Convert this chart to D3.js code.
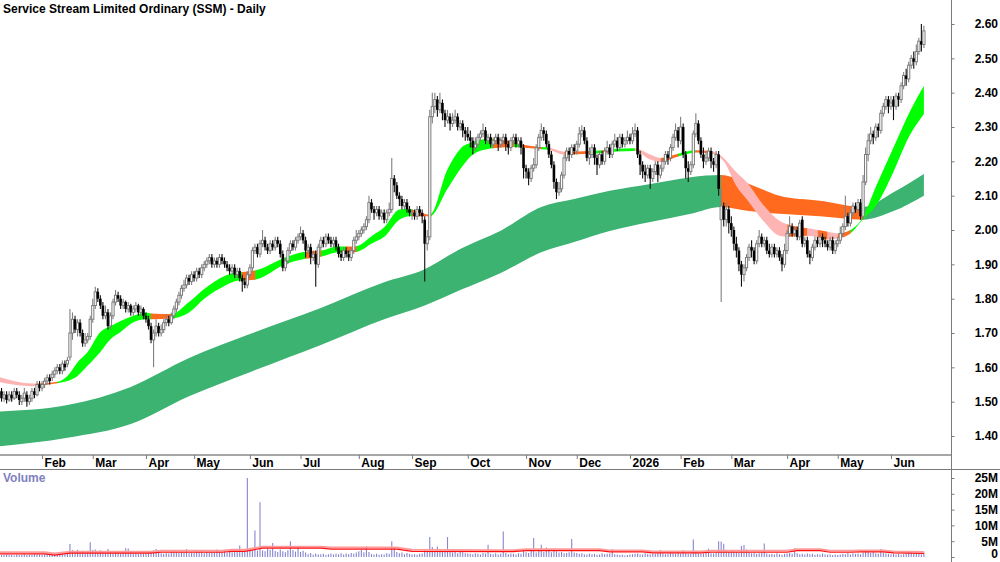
<!DOCTYPE html>
<html>
<head>
<meta charset="utf-8">
<script src="https://cdn.jsdelivr.net/npm/d3@7"></script>
<style>
  html, body { margin: 0; padding: 0; background: #fff; }
  svg { display: block; }
  text { font-family: 'Liberation Sans Narrow', 'Arial Narrow', 'Liberation Sans', Arial, sans-serif; font-weight: bold; }
</style>
</head>
<body>
<svg id="chart" width="1000" height="562"></svg>
<script>
'use strict';

// ============================================================
//  SSM daily candles + short/long MA ribbons + volume panel
//  Prices kept in cents, volume in millions.
// ============================================================

// ── Data: one row per month (first day = 8 Jan 2025) ───────
const opens = [
  152,153,151,152,150.5,152,151,153,152,150,151,152,150,151,153,152,155,
  154,155,156,157,157,158,159,160,159,161,161,163,170,174,171,173,170,167,168,169,
  174,178,182,180,178,175,176,172,175,179,181,180,178,179,177,178,176,177,178,176,177,
  175,174,172,168,170,172,170,171,173,174,173,175,177,179,181,183,184,186,185,
  187,186,188,187,189,190,191,192,190,191,190,192,191,190,189,188,189,187,188,186,185,184,
  187,189,194,195,193,196,197,195,194,196,195,197,196,193,189,191,194,196,195,197,
  198,199,197,194,195,192,193,190,195,197,196,198,197,196,197,195,193,192,194,193,192,194,197,
  198,199,200,201,203,208,206,205,206,204,205,203,205,206,215,213,210,209,207,208,206,
  205,205,204,206,205,203,196,198,233,236,238,235,237,234,232,233,231,232,233,230,231,229,
  228,227,226,224,225,227,228,229,226,227,225,226,227,225,226,227,225,224,226,227,225,226,224,
  218,217,215,218,219,224,227,229,228,225,222,219,214,211,212,216,221,223,222,224,
  223,225,228,229,226,221,222,224,221,219,222,220,223,224,222,225,226,224,227,225,226,
  227,226,228,229,222,219,217,216,218,215,217,219,216,218,220,222,221,224,227,229,
  226,230,222,218,217,219,228,231,226,222,220,221,223,220,219,222,203,207,203,206,
  202,200,196,194,190,187,189,192,195,194,191,196,198,196,197,194,193,195,193,194,192,190,
  194,199,201,199,200,198,203,196,197,193,192,195,197,196,198,197,196,195,197,194,
  196,197,199,201,204,202,205,207,206,208,204,214,222,226,228,227,230,229,234,236,238,
  236,238,236,239,238,242,245,244,248,250,249,252,255,254
];

const highs = [
  154,154,153,153,153,153,154,154,153,152,154,153,152,154,154,156,156,
  156,157,158,158,159,160,161,161,162,162,163,177,176,175,174,174,171,170,170,175,
  180,183.5,183,181,179,178,177,176,180,182.5,182,181,180,179.5,179,178.5,178,179,178.5,178,177.5,
  176,175,173,171,174,173,172.5,174,175.5,175,176,178,180,182,184,185.5,187,187,188,
  188,189,189,190,191,192,193,193,192,192,193,193,192,191,190,190,190,189,189,187,186,188,
  190,195,196,196,197,200,198,196,197,197,198,198,197,194,192,195,197,197,198,199,
  201,200,198,196,196,194,194,196,198,198,199,199,198,198,198,196,194,195,195,194,195,198,200,
  200,201,202,204,210,209,207,207,207,206,206,206,208,221,216,214,211,210,209,209,207,
  206,206,207,207,206,204,200,235,240,240,239,240,238,235,235,234,234,235,234,232,232,230,
  230,229,227,227,228,229,231,230,228,228,227,228,228,227,228,228,226,227,228,228,227,227,225,
  219,218,219,221,225,228,231,230,229,226,223,220,215,214,217,222,224,224,225,225,
  226,230,230.5,230,227,224,225,225,222,223,223,224,226,225,226,228,227,228,228,227,229,
  228,230,231,230,223,220,219,219,219,218,220,220,219,221,223,223,225,228,231,230,
  233,231,223,220,220,229,234,232,227,224,223,224,224,221,223,223,212,208,208,207,
  204,201,198,195,191,190,193,196,197,195,197,200,199,198,198,196,196,196,195,195,193,196,
  200,204,202,201,201,203,204,198,198,194,196,198,198,199,199,198,197,198,198,197,
  198,201,202,210,205,206,208,208,209,209,216,224,228,230,229,231,231,235,237,239,239,
  239,239,240,240,243,246,247,249,251,252,254,256,260,259.5
];

const lows = [
  151,150,150,149.5,150,150,150.5,151,149,149,150,148.5,149,150,151,151.5,153,
  153,154,155,155,156,157,158,158,158,159,160,162,168,170,169,169,166,166,167,168,
  173,177,179,177,174,174,171,171,174,178,179,177,177,176,176,175,175,176,175,175,174,
  173,171,167,160,169,169,169,170,172,172,172.5,174,176,178,180,182,183,184,184,
  185,185,186,186,188,189,190,189,189,189,189,190,189,188,187,187,186,186,185,182,183,183,
  186,188,193,192,192,195,194,193,193,194,194,195,192,188,188,190,193,194,194,196,
  197,196,192,193,190,191,183.5,189,194,195,195,196,195,195,194,192,191,191,192,191,191,193,196,
  197,198,199,200,202,205,203,204,203,203,202,202,204,205,211,209,207,206,206,205,204,
  203,203,203,204,202,185,194,197,231,234,233,234,232,230,231,229,230,231,229,229,227,226,
  226,224,222,223,224,226,227,225,225,224,224,225,223,224,225,223,222,223,225,224,224,222,215,
  215,213,214,217,218,223,226,226,224,221,218,212,209,210,211,215,220,220,221,222,
  222,224,227,225,220,219,221,219,216,218,219,219,222,221,221,224,223,223,224,224,225,
  225,225,227,221,216,215,214,215,212,214,216,214,215,217,219,219,220,223,226,224,
  225,221,215,214,216,218,227,225,221,218,219,220,218,217,218,210,179,201,201,199,
  198,194,192,188,183.5,185,188,191,192,190,190,195,195,195,193,192,192,192,192,191,188,189,
  193,198,198,198,197,197,195,195,192,190,191,194,195,195,195,195,194,194,193,193,
  195,196,198,200,201,201,204,205,205,203,203,213,220,225,225,226,227,228,233,235,234,
  235,232,235,236,237,241,242,243,247,247,248,251,252,253
];

const closes = [
  153,151,152,150.5,152,151,153,152,150.5,151,152.5,150,151,153,152,155,154,
  155,156,157,156,158,159,160,159,161,160,162,170,174,171,173,170,167,168,169,174,
  178,182,180,178,175,176,172,175,179,181,180,178,179,177,178,176,177,178,176,177,175,
  174,172,168,170,172,170,171,173,174,173,175,177,179,181,183,184,186,185,187,
  186,188,187,189,190,191,192,190,191,190,192,191,190,189,188,189,187,188,186,185,184,187,
  189,194,195,193,196,197,195,194,196,195,197,196,193,189,191,194,196,195,197,198,
  199,197,194,195,192,193,190,195,197,196,198,197,196,197,195,193,192,194,193,192,194,197,198,
  199,200,201,203,208,206,205,206,204,205,203,205,206,215,213,210,209,207,208,206,205,
  205,204,206,205,204,196,198,233,236,238,235,237,234,232,233,231,232,233,230,231,229,228,
  227,226,224,225,227,228,229,226,227,225,226,227,225,226,227,225,224,226,227,225,226,224,218,
  217,215,218,219,224,227,229,228,225,222,219,214,211,212,216,221,223,222,224,223,
  225,228,229,226,221,222,224,221,219,222,220,223,224,222,225,226,224,227,225,226,227,
  226,228,229,222,219,217,216,218,215,217,219,216,218,220,222,221,224,227,229,226,
  230,222,218,217,219,228,231,226,222,220,221,223,220,219,222,212,207,203,206,202,
  200,196,194,190,187,189,192,195,194,191,196,198,196,197,194,193,195,193,194,192,190,194,
  199,201,199,200,198,202,196,197,193,192,195,197,196,198,197,196,195,197,194,196,
  197,199,201,204,202,205,207,206,208,204,214,222,226,228,227,230,229,234,236,238,236,
  237,236,239,238,242,245,244,248,250,249,252,255,254,258
];

const volumes = [
  0.8,0.6,0.7,0.9,0.6,0.7,0.5,0.8,0.6,0.7,0.9,0.6,0.8,0.7,1.0,0.9,0.8,
  0.7,0.9,1.1,0.8,0.9,1.0,1.3,0.8,1.0,0.9,1.2,4.1,2.2,1.8,2.3,1.5,2.0,1.4,1.6,4.7,
  2.2,2.4,1.8,2.1,1.5,1.3,2.5,1.6,1.2,1.8,1.4,1.1,1.5,2.8,2.7,1.6,1.2,1.4,1.0,1.3,1.1,
  1.2,1.6,1.9,2.1,2.5,1.4,1.2,1.0,1.3,1.1,1.7,2.2,1.5,1.3,1.6,1.4,2.5,1.2,1.4,
  1.3,1.8,1.5,1.9,1.2,1.6,1.4,1.7,1.5,2.4,1.8,1.6,1.9,1.4,1.7,1.5,2.0,1.6,3.6,1.8,1.7,25.0,
  2.2,1.9,8.4,2.0,17.3,2.1,1.8,2.6,2.3,4.4,1.9,1.6,2.4,1.8,1.5,2.1,5.0,2.2,1.7,3.2,
  1.6,2.0,1.4,0.9,1.3,0.7,1.1,0.8,0.9,1.0,0.6,0.9,1.1,0.8,1.0,0.9,1.2,0.8,1.1,0.9,1.3,1.0,1.4,
  1.8,2.3,1.5,3.4,1.6,0.9,0.8,1.0,0.7,0.9,0.8,1.2,1.0,5.0,3.0,1.6,1.2,1.4,0.9,1.3,1.0,
  0.8,0.9,0.7,1.0,1.1,2.4,1.8,6.3,3.2,1.9,3.3,2.2,1.8,2.0,6.3,2.1,1.4,1.6,1.2,2.3,1.5,1.2,
  1.1,1.0,0.9,1.2,1.0,0.8,1.3,1.1,3.9,1.0,0.9,1.2,0.8,1.0,8.1,1.3,0.9,1.1,1.0,0.8,1.2,1.0,2.0,
  1.5,1.3,1.9,6.0,1.4,2.5,3.9,1.7,3.0,2.0,1.5,2.6,1.8,1.4,1.6,1.2,1.3,1.5,5.7,1.4,
  1.3,1.0,1.2,0.9,0.8,1.1,0.9,1.0,0.7,0.8,1.2,0.9,1.0,1.1,2.5,0.9,0.8,0.6,0.7,0.5,0.6,
  0.8,0.9,1.0,1.1,0.9,0.8,1.2,1.0,0.9,1.1,1.0,1.2,2.2,1.1,0.9,1.0,1.3,1.2,1.0,1.4,
  1.1,2.2,1.2,1.0,1.1,5.5,1.6,1.2,1.0,1.1,1.3,2.6,1.2,1.1,1.4,5.0,4.9,4.2,2.0,1.6,
  1.8,2.2,1.6,1.4,3.5,3.8,2.4,1.5,1.2,1.3,1.0,1.2,1.4,4.3,1.1,0.9,1.0,0.8,1.2,0.9,0.7,1.0,
  1.1,1.3,1.0,2.8,1.2,0.9,1.0,0.8,1.1,0.9,1.0,0.7,0.9,0.8,1.1,0.8,0.7,0.9,0.6,0.8,
  0.7,0.8,1.0,0.9,1.3,0.8,1.2,1.0,1.1,0.9,1.4,2.2,1.8,1.3,1.6,1.2,1.0,2.5,1.4,1.1,1.0,
  0.9,1.1,0.8,1.0,0.7,0.9,1.2,1.8,1.5,1.0,1.7,1.3,0.9,1.5
];

// Volume average line (bar index → millions)
const volAvgIdx = [0,18,22,28,60,64,88,92,97,100,104,127,131,157,163,198,203,208,212,237,241,254,258,277,281,311,315,324,328,336,340,349,353,365];
const volAvgVal = [1.0,1.0,0.6,1.2,1.2,1.5,1.5,1.8,1.8,2.2,2.8,2.8,2.5,2.5,1.8,1.7,1.7,2.0,2.0,2.0,1.6,1.6,1.3,1.3,1.5,1.5,2.0,2.0,1.5,1.5,1.6,1.6,1.3,1.1];

// Short-term ribbon (bar index, edges in cents, state G/O/P)
const shortIdx   = [0,13,15,23,27,31,35,40,44,48,53,58,60,68,75,81,89,94,96,101,113,120,121,127,134,137,141,147,152,158,162,163,170,177,182,187,193,195,203,206,214,217,223,233,238,242,251,257,261,268,275,281,286,291,295,302,308,311,319,323,327,331,336,341,346,353,359,365];
const shortUpper = [157.2,155.3,155.3,155.8,157.5,161.5,164.5,170.3,172.0,173.5,175.0,176.0,175.7,175.5,179.0,182.8,186.6,187.7,187.8,188.2,192.0,193.6,193.7,194.0,195.3,195.2,195.3,198.2,200.8,206.0,206.2,206.0,204.5,217.7,223.6,225.6,226.5,226.5,225.8,225.0,224.2,224.0,222.8,223.0,223.2,223.6,223.8,222.0,221.0,222.2,223.2,223.0,221.0,216.8,214.0,207.0,202.7,201.7,200.5,200.0,199.5,199.0,200.0,203.8,212.5,224.0,233.8,242.0];
const shortLower = [155.7,154.5,154.6,155.4,156.0,157.5,160.5,164.5,168.2,170.3,173.1,174.0,174.0,174.2,176.0,180.0,183.7,185.2,185.3,185.5,190.0,191.5,191.6,192.2,193.5,193.4,193.6,196.0,198.0,203.0,204.0,204.0,204.0,212.0,217.7,222.0,223.6,223.8,224.2,224.0,223.5,223.3,222.0,222.2,222.4,222.8,223.0,220.5,219.8,221.4,222.6,222.2,220.0,212.8,209.0,202.3,198.3,198.0,198.3,197.8,197.2,197.5,199.0,203.2,207.0,217.0,227.0,233.8];
const shortState = ['P','P','O','G','G','G','G','G','G','G','G','G','O','G','G','G','G','G','O','G','G','G','O','G','G','O','G','G','G','G','G','O','G','G','G','G','G','O','G','O','G','P','O','G','O','G','P','P','O','G','O','P','P','P','P','P','P','O','P','O','P','O','G','G','G','G','G','G'];

// Long-term ribbon
const longIdx   = [0,27,52,75,99,127,152,168,182,198,214,227,241,257,273,285,296,308,324,341,353,365];
const longUpper = [147.1,149.0,154.3,162.7,169.7,177.3,184.8,188.6,194.5,199.8,206.7,209.0,211.4,213.4,215.4,216.0,213.4,210.0,208.5,206.7,211.0,216.3];
const longLower = [137.0,139.5,143.5,151.6,158.6,166.5,174.0,178.0,182.5,187.5,193.5,196.5,199.7,202.3,204.7,206.7,205.5,204.7,204.0,203.0,205.5,210.0];
const longState = ['G','G','G','G','G','G','G','G','G','G','G','G','G','G','G','O','O','O','O','G','G','G'];

// Axis labels / ticks
const monthLabels  = ['Feb','Mar','Apr','May','Jun','Jul','Aug','Sep','Oct','Nov','Dec','2026','Feb','Mar','Apr','May','Jun'];
const priceTicks   = [1.40,1.50,1.60,1.70,1.80,1.90,2.00,2.10,2.20,2.30,2.40,2.50,2.60];
const volumeTicks  = [0,5,10,15,20,25];
const asxHolidays  = ['2025-01-27','2025-04-18','2025-04-21','2025-04-25','2025-06-09','2025-12-25','2025-12-26',
                      '2026-01-01','2026-01-26','2026-04-03','2026-04-06','2026-06-08'];

const SHORT_COLOURS = { G: '#00ff00', O: '#ff6a1f', P: '#ffb4b4' };
const LONG_COLOURS  = { G: '#3cb371', O: '#ff6a1f' };

// ── Layout ───────────────────────────────────────────────────
const W = 1000, H = 562;
const AXIS_X = 951;
const PRICE_BOTTOM = 455;
const n = closes.length;

// ── Trading days ─────────────────────────────────────────────
const fmtKey = d3.timeFormat('%Y-%m-%d');
const dates = [];
for (let d = new Date(2025, 0, 8); dates.length < n; d.setDate(d.getDate() + 1)) {
    const wd = d.getDay();
    if (wd !== 0 && wd !== 6 && !asxHolidays.includes(fmtKey(d))) dates.push(new Date(d));
}
const monthStarts = d3.range(1, n).filter(i => dates[i].getMonth() !== dates[i - 1].getMonth());

// ── Scales ───────────────────────────────────────────────────
const x  = d3.scaleLinear().domain([0, 365]).range([-1.0, 923.9]);
const y  = d3.scaleLinear().domain([1.40, 2.60]).range([436, 24]);
const yV = d3.scaleLinear().domain([0, 25]).range([557, 478]);

const svg  = d3.select('#chart');
const defs = svg.append('defs');

defs.append('clipPath').attr('id', 'price-clip')
    .append('rect').attr('x', 0).attr('y', 0).attr('width', AXIS_X).attr('height', PRICE_BOTTOM - 1);

const gPrice = svg.append('g').attr('clip-path', 'url(#price-clip)');

// ── Ribbons ──────────────────────────────────────────────────
function drawRibbon(g, idx, upper, lower, state, colours, id) {
    const pts = idx.map((d, k) => ({ i: d, a: upper[k] / 100, b: lower[k] / 100, s: state[k] }));
    const area = d3.area()
        .x(d => x(d.i))
        .y0(d => y(d.b))
        .y1(d => y(d.a))
        .curve(d3.curveMonotoneX);

    // runs of equal state: [start, next sample]
    const runs = [];
    for (let k = 0; k < pts.length - 1; k++) {
        const last = runs[runs.length - 1];
        if (last && last.s === pts[k].s) last.end = pts[k + 1].i;
        else runs.push({ s: pts[k].s, start: pts[k].i, end: pts[k + 1].i });
    }

    Object.keys(colours).forEach(s => {
        const rs = runs.filter(r => r.s === s);
        if (!rs.length) return;
        const cid = `${id}-${s}`;
        const cp = defs.append('clipPath').attr('id', cid);
        rs.forEach(r => cp.append('rect')
            .attr('x', x(r.start) - 0.3)
            .attr('width', x(r.end) - x(r.start) + 0.6)
            .attr('y', 0).attr('height', H));
        g.append('path')
            .attr('d', area(pts))
            .attr('fill', colours[s])
            .attr('clip-path', `url(#${cid})`);
    });
}

drawRibbon(gPrice, longIdx, longUpper, longLower, longState, LONG_COLOURS, 'long');
drawRibbon(gPrice, shortIdx, shortUpper, shortLower, shortState, SHORT_COLOURS, 'short');

// ── Candles ──────────────────────────────────────────────────
const isUp = i => closes[i] >= opens[i];

const candles = gPrice.selectAll('g.candle')
    .data(d3.range(n))
    .join('g')
    .attr('class', 'candle');

candles.append('line')
    .attr('x1', i => x(i)).attr('x2', i => x(i))
    .attr('y1', i => y(highs[i] / 100))
    .attr('y2', i => y(lows[i] / 100))
    .attr('stroke', i => isUp(i) ? '#808080' : '#101010')
    .attr('stroke-width', 1.1);

candles.append('rect')
    .attr('x', i => x(i) - (isUp(i) ? 1.1 : 1.3))
    .attr('width', i => isUp(i) ? 2.2 : 2.6)
    .attr('y', i => y(Math.max(opens[i], closes[i]) / 100))
    .attr('height', i => Math.max(1.2, Math.abs(y(opens[i] / 100) - y(closes[i] / 100))))
    .attr('fill', i => isUp(i) ? '#ffffff' : '#000000')
    .attr('stroke', i => isUp(i) ? '#7c7c7c' : 'none')
    .attr('stroke-width', 1);

// ── Volume ───────────────────────────────────────────────────
svg.append('g')
    .selectAll('line')
    .data(volumes)
    .join('line')
    .attr('x1', (v, i) => x(i)).attr('x2', (v, i) => x(i))
    .attr('y1', yV(0))
    .attr('y2', v => yV(v))
    .attr('stroke', '#8686d0')
    .attr('stroke-width', 1.1);

const volLine = d3.line()
    .x((d, k) => x(volAvgIdx[k]))
    .y(d => yV(d));

svg.append('path')
    .attr('d', volLine(volAvgVal))
    .attr('transform', 'translate(0,-1.5)')
    .attr('fill', 'none')
    .attr('stroke', '#ff9a9a')
    .attr('stroke-width', 2);

svg.append('path')
    .attr('d', volLine(volAvgVal))
    .attr('fill', 'none')
    .attr('stroke', '#ff1010')
    .attr('stroke-width', 1.2);

svg.append('text')
    .attr('x', 3).attr('y', 482)
    .attr('font-size', 12)
    .attr('fill', '#8080c0')
    .text('Volume');

// ── Frame lines ──────────────────────────────────────────────
svg.append('line')
    .attr('x1', 0).attr('x2', AXIS_X).attr('y1', PRICE_BOTTOM).attr('y2', PRICE_BOTTOM)
    .attr('stroke', '#a6a6a6').attr('stroke-width', 2);
svg.append('line')
    .attr('x1', 0).attr('x2', W).attr('y1', 469.5).attr('y2', 469.5)
    .attr('stroke', '#7a7a7a').attr('stroke-width', 1);
svg.append('line')
    .attr('x1', AXIS_X + 0.5).attr('x2', AXIS_X + 0.5).attr('y1', 0).attr('y2', H)
    .attr('stroke', '#7a7a7a').attr('stroke-width', 1);

// ── X axis (months) ──────────────────────────────────────────
const xAxis = d3.axisBottom(x)
    .tickValues(monthStarts)
    .tickSize(4)
    .tickFormat((d, k) => monthLabels[k] || '');

const gx = svg.append('g')
    .attr('transform', `translate(0,${PRICE_BOTTOM})`)
    .call(xAxis);
gx.select('.domain').remove();
gx.selectAll('.tick line').attr('stroke', '#7a7a7a');
gx.selectAll('.tick text')
    .attr('x', 2).attr('y', 11.5).attr('dy', null)
    .attr('text-anchor', 'start')
    .attr('font-size', 12)
    .attr('font-family', null)
    .attr('fill', '#000');

// ── Price axis ───────────────────────────────────────────────
const gy = svg.append('g')
    .attr('transform', `translate(${AXIS_X + 0.5},0)`)
    .call(d3.axisRight(y).tickValues(priceTicks).tickSize(3).tickFormat(d3.format('.2f')));
gy.select('.domain').remove();
gy.selectAll('.tick line').attr('stroke', '#7a7a7a');
gy.selectAll('.tick text')
    .attr('x', 46.5).attr('text-anchor', 'end')
    .attr('font-size', 12).attr('font-family', null).attr('fill', '#000');

// ── Volume axis ──────────────────────────────────────────────
const gv = svg.append('g')
    .attr('transform', `translate(${AXIS_X + 0.5},0)`)
    .call(d3.axisRight(yV).tickValues(volumeTicks).tickSize(3).tickFormat(v => v ? `${v}M` : '0'));
gv.select('.domain').remove();
gv.selectAll('.tick line').attr('stroke', '#7a7a7a');
gv.selectAll('.tick text')
    .attr('x', 46.5).attr('text-anchor', 'end')
    .attr('dy', v => v ? '0.32em' : '0.05em')
    .attr('font-size', 12).attr('font-family', null).attr('fill', '#000');

// ── Title ────────────────────────────────────────────────────
svg.append('text')
    .attr('x', 3).attr('y', 12.5)
    .attr('font-size', 12)
    .attr('fill', '#000')
    .text('Service Stream Limited Ordinary (SSM) - Daily');
</script>
</body>
</html>
